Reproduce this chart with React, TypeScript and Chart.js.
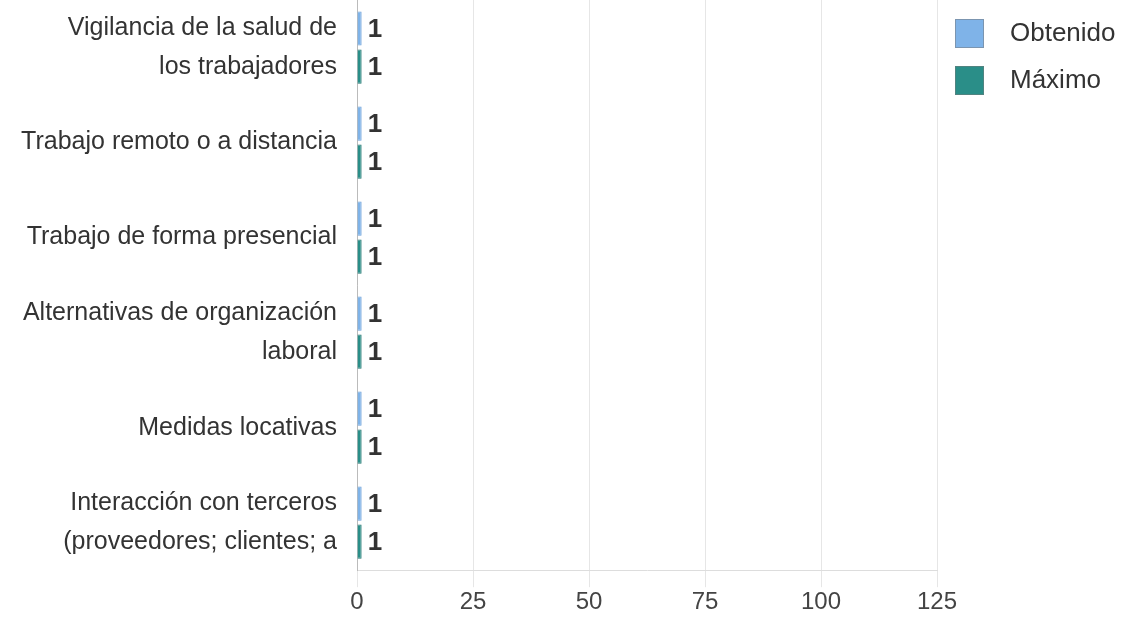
import React, { useEffect, useRef } from "react";
import { Chart, registerables } from "chart.js";

Chart.register(...registerables);

const categories: (string | string[])[] = [
  ["Vigilancia de la salud de", "los trabajadores"],
  "Trabajo remoto o a distancia",
  "Trabajo de forma presencial",
  ["Alternativas de organización", "laboral"],
  "Medidas locativas",
  ["Interacción con terceros", "(proveedores; clientes; a"],
];
const obtenido = [1, 1, 1, 1, 1, 1];
const maximo = [1, 1, 1, 1, 1, 1];
const seriesNames = ["Obtenido", "Máximo"];
const xTicks = { min: 0, max: 125, step: 25 };

const FONT = "'Liberation Sans', Arial, sans-serif";
const colors = {
  obtenido: "#7fb3e8",
  obtenidoBorder: "#6a9fd8",
  maximo: "#2a8e88",
  maximoBorder: "#227670",
};

const valueLabels = {
  id: "valueLabels",
  afterDatasetsDraw(chart: any) {
    const ctx = chart.ctx;
    ctx.save();
    ctx.font = `bold 26px ${FONT}`;
    ctx.fillStyle = "#333333";
    ctx.textAlign = "left";
    ctx.textBaseline = "middle";
    chart.data.datasets.forEach((ds: any, i: number) => {
      const meta = chart.getDatasetMeta(i);
      meta.data.forEach((el: any, j: number) => {
        ctx.fillText(String(ds.data[j]), el.x + 6, el.y + 1);
      });
    });
    ctx.restore();
  },
};

const customLegend = {
  id: "customLegend",
  afterDraw(chart: any) {
    const ctx = chart.ctx;
    const area = chart.chartArea;
    ctx.save();
    ctx.font = `26px ${FONT}`;
    ctx.textBaseline = "middle";
    ctx.textAlign = "left";
    chart.data.datasets.forEach((ds: any, i: number) => {
      const x = area.right + 18;
      const y = area.top + 19 + i * 47;
      ctx.fillStyle = ds.backgroundColor;
      ctx.fillRect(x, y, 29, 29);
      ctx.strokeStyle = "rgba(120,120,120,0.5)";
      ctx.lineWidth = 1;
      ctx.strokeRect(x + 0.5, y + 0.5, 28, 28);
      ctx.fillStyle = "#333333";
      ctx.fillText(ds.label, x + 55, y + 15);
    });
    ctx.restore();
  },
};

export default function App() {
  const ref = useRef<HTMLCanvasElement>(null);
  useEffect(() => {
    document.body.style.margin = "0";
    if (!ref.current) return;
    const chart = new Chart(ref.current, {
      type: "bar",
      data: {
        labels: categories,
        datasets: [
          {
            label: seriesNames[0],
            data: obtenido,
            backgroundColor: colors.obtenido,
            borderColor: colors.obtenidoBorder,
            borderWidth: 1,
          },
          {
            label: seriesNames[1],
            data: maximo,
            backgroundColor: colors.maximo,
            borderColor: colors.maximoBorder,
            borderWidth: 1,
          },
        ],
      },
      options: {
        indexAxis: "y",
        animation: false,
        responsive: false,
        devicePixelRatio: 1,
        layout: { padding: { top: 0, right: 200, bottom: 0, left: 0 } },
        plugins: {
          legend: { display: false },
          tooltip: { enabled: false },
        },
        scales: {
          x: {
            min: xTicks.min,
            max: xTicks.max,
            ticks: {
              stepSize: xTicks.step,
              color: "#444444",
              font: { family: FONT, size: 24 },
              padding: 1,
            },
            grid: { color: "#e6e6e6", tickLength: 17 },
            border: { color: "#dddddd" },
          },
          y: {
            ticks: {
              color: "#333333",
              font: { family: FONT, size: 25, lineHeight: 1.56 },
              padding: 12,
            },
            grid: { display: false },
            border: { color: "#bbbbbb" },
            afterFit(scale: any) {
              scale.width = 357;
              scale.paddingTop = 0;
              scale.paddingBottom = 0;
            },
          },
        },
      },
      plugins: [valueLabels, customLegend],
    });
    return () => chart.destroy();
  }, []);
  return (
    <div style={{ width: 1137, height: 618 }}>
      <canvas ref={ref} width={1137} height={618} />
    </div>
  );
}
